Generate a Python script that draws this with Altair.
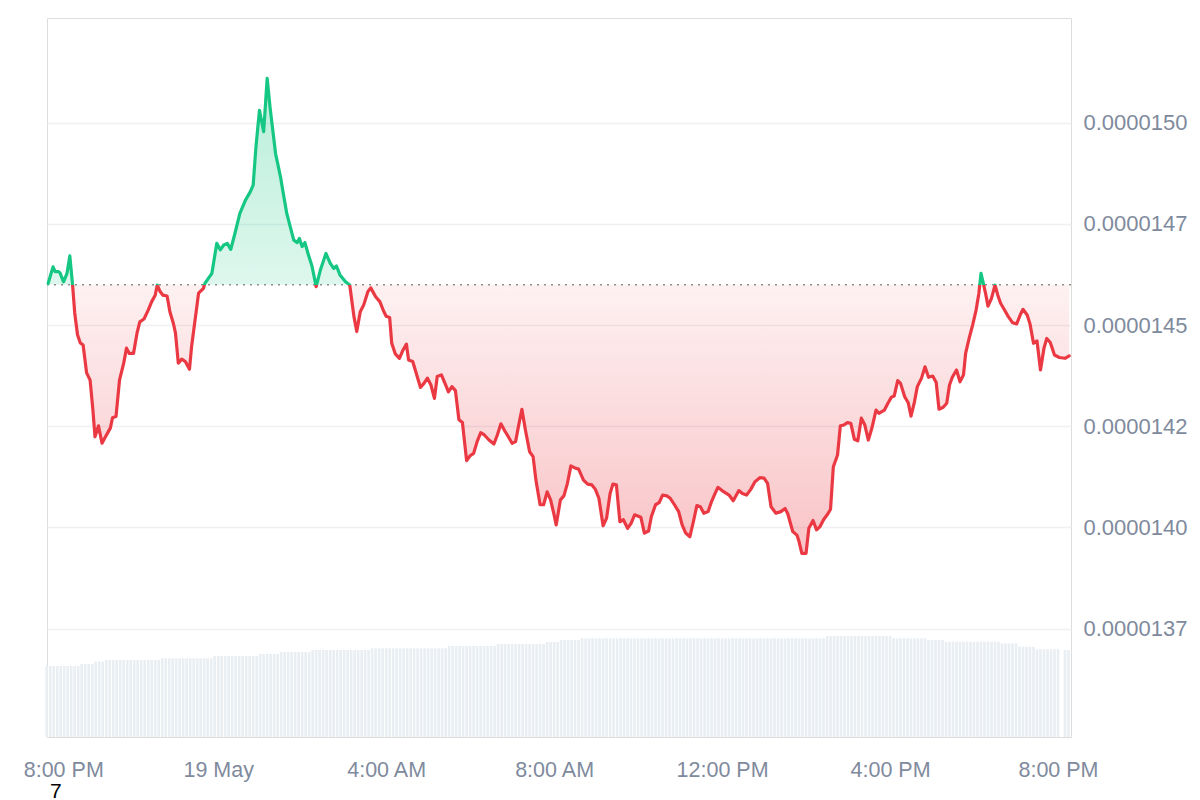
import altair as alt
import pandas as pd
import numpy as np

# ---------------- data ----------------
# minutes after 18 May 20:00
minutes = [
    -3, 4, 7, 12, 14, 19, 24, 28, 32, 35,
    39, 43, 47, 52, 57, 61, 64, 69, 74, 78,
    86, 89, 94, 99, 105, 109, 113, 119, 124, 128,
    134, 140, 145, 150, 153, 157, 161, 167, 171, 176,
    179, 183, 188, 193, 199, 202, 207, 212, 219, 221,
    231, 238, 243, 248, 253, 258, 264, 271, 279, 286,
    290, 294, 299, 305, 310, 314, 322, 329, 333, 338,
    343, 348, 353, 356, 360, 364, 369, 374, 380, 386,
    394, 400, 405, 409, 414, 422, 428, 434, 438, 443,
    448, 454, 458, 465, 471, 476, 480, 485, 488, 493,
    499, 504, 509, 512, 518, 523, 529, 534, 539, 544,
    549, 553, 559, 565, 569, 574, 579, 584, 589, 595,
    600, 605, 610, 615, 620, 627, 634, 639, 644, 650,
    655, 660, 665, 669, 674, 679, 685, 690, 694, 700,
    705, 710, 715, 720, 723, 729, 734, 739, 744, 751,
    755, 762, 768, 774, 779, 784, 790, 795, 800, 804,
    809, 814, 819, 825, 830, 835, 844, 849, 855, 859,
    865, 870, 875, 881, 886, 892, 898, 903, 908, 914,
    919, 924, 929, 934, 940, 945, 948, 954, 960, 970,
    976, 984, 989, 995, 1001, 1007, 1014, 1020, 1025, 1030,
    1037, 1044, 1050, 1054, 1061, 1067, 1070, 1074, 1080, 1084,
    1090, 1095, 1100, 1105, 1111, 1115, 1119, 1125, 1129, 1134,
    1139, 1144, 1149, 1154, 1159, 1164, 1169, 1174, 1180, 1184,
    1192, 1197, 1202, 1206, 1211, 1215, 1221, 1226, 1230, 1235,
    1239, 1245, 1250, 1255, 1261, 1266, 1270, 1276, 1281, 1285,
    1289, 1295, 1300, 1305, 1308, 1313, 1318, 1323, 1327, 1330,
    1334, 1337, 1340, 1345, 1350, 1354, 1358, 1363, 1369, 1375,
    1381, 1386, 1390, 1396, 1400, 1405, 1410, 1415, 1420, 1424,
    1429, 1435, 1442, 1450, 1456,
]

# price in units of 1e-7 USD
price_e7 = [
    146.03, 146.44, 146.32, 146.32, 146.29, 146.07, 146.28, 146.71, 145.98, 145.30,
    144.76, 144.56, 144.51, 143.82, 143.64, 142.90, 142.24, 142.51, 142.08, 142.21,
    142.46, 142.71, 142.74, 143.64, 144.06, 144.43, 144.30, 144.30, 144.80, 145.08,
    145.15, 145.37, 145.58, 145.74, 145.99, 145.83, 145.74, 145.72, 145.33, 145.04,
    144.80, 144.06, 144.16, 144.10, 143.91, 144.47, 145.13, 145.79, 145.91, 146.03,
    146.28, 147.02, 146.86, 146.98, 147.02, 146.87, 147.27, 147.76, 148.09, 148.30,
    148.46, 149.41, 150.31, 149.78, 151.10, 150.40, 149.24, 148.67, 148.26, 147.76,
    147.43, 147.10, 147.04, 147.14, 146.94, 147.04, 146.73, 146.46, 145.95, 146.36,
    146.77, 146.53, 146.40, 146.46, 146.24, 146.07, 145.99, 145.21, 144.84, 145.33,
    145.50, 145.83, 145.92, 145.70, 145.58, 145.36, 145.22, 145.19, 144.55, 144.29,
    144.18, 144.38, 144.53, 144.14, 144.10, 143.81, 143.46, 143.56, 143.69, 143.52,
    143.19, 143.73, 143.77, 143.52, 143.35, 143.48, 143.38, 142.66, 142.59, 141.65,
    141.77, 141.83, 142.12, 142.34, 142.29, 142.16, 142.06, 142.29, 142.56, 142.37,
    142.23, 142.08, 142.12, 142.49, 142.92, 142.41, 141.87, 141.75, 141.17, 140.56,
    140.56, 140.88, 140.68, 140.31, 140.06, 140.68, 140.78, 141.09, 141.52, 141.46,
    141.44, 141.17, 141.07, 141.05, 140.94, 140.72, 140.04, 140.23, 140.84, 141.07,
    141.05, 140.14, 140.19, 139.98, 140.10, 140.31, 140.25, 139.86, 139.91, 140.27,
    140.56, 140.61, 140.80, 140.78, 140.72, 140.56, 140.39, 140.06, 139.86, 139.77,
    140.14, 140.54, 140.51, 140.35, 140.39, 140.64, 140.76, 140.99, 140.91, 140.80,
    140.66, 140.91, 140.84, 140.80, 140.94, 141.13, 141.23, 141.22, 141.09, 140.51,
    140.35, 140.39, 140.47, 140.33, 139.90, 139.81, 139.65, 139.36, 139.36, 139.98,
    140.17, 139.94, 140.02, 140.19, 140.33, 140.45, 141.50, 141.79, 142.51, 142.53,
    142.59, 142.57, 142.18, 142.14, 142.70, 142.53, 142.16, 142.45, 142.90, 142.82,
    142.90, 143.07, 143.22, 143.25, 143.63, 143.56, 143.23, 143.08, 142.75, 143.11,
    143.48, 143.69, 143.97, 143.71, 143.74, 143.58, 142.92, 142.97, 143.07, 143.52,
    143.71, 143.89, 143.60, 143.77, 144.30, 144.67, 145.00, 145.37, 145.79, 146.28,
    145.98, 145.74, 145.47, 145.66, 145.99, 145.74, 145.54, 145.39, 145.21, 145.06,
    145.03, 145.25, 145.39, 145.25, 145.03, 144.55, 144.61, 143.89, 144.43, 144.67,
    144.57, 144.26, 144.20, 144.18, 144.24,
]

baseline_e7 = 146.0   # reference (open) price, dotted line

# 24h volume bars (relative units), read as steps: step start minute -> value
vol_step_start = [-5, 45, 63, 78, 159, 231, 297, 327, 375, 459, 569, 638, 708,
                  728, 758, 1110, 1203, 1251, 1278, 1356, 1383, 1410, 1445]
vol_step_value = [9.87, 10.15, 10.47, 10.71, 10.95, 11.27, 11.54, 11.82, 12.10,
                  12.34, 12.66, 12.93, 13.21, 13.49, 13.73, 14.05, 13.73, 13.49,
                  13.25, 13.03, 12.56, 12.20, 12.10]
vol_minutes = list(range(-5, 1445, 5)) + [1450, 1455]

y_tick_values = [137.5, 140.0, 142.5, 145.0, 147.5, 150.0]
x_tick_hours = [(18, 20), (19, 0), (19, 4), (19, 8), (19, 12), (19, 16), (19, 20)]

# ---------------- tables ----------------
t0 = pd.Timestamp("2024-05-18 20:00")
n = min(len(minutes), len(price_e7))
df = pd.DataFrame({
    "time": t0 + pd.to_timedelta(minutes[:n], unit="min"),
    "price": price_e7[:n],
})
df["above"] = np.maximum(df["price"], baseline_e7)
df["below"] = np.minimum(df["price"], baseline_e7)

vol_vals = []
for m in vol_minutes:
    v = vol_step_value[0]
    for s, val in zip(vol_step_start, vol_step_value):
        if m >= s:
            v = val
    vol_vals.append(v)
vdf = pd.DataFrame({"time": t0 + pd.to_timedelta(vol_minutes, unit="min"), "vol": vol_vals})

GREEN = "#16c784"
RED = "#ea3943"
GRAY = "#808a9d"
FONT = "Liberation Sans"

pmax, pmin = max(price_e7), min(price_e7)
split = (pmax - baseline_e7) / (pmax - pmin)

x_enc = alt.X(
    "time:T",
    title=None,
    scale=alt.Scale(domain=[
        alt.DateTime(year=2024, month=5, date=18, hours=19, minutes=55, seconds=24),
        alt.DateTime(year=2024, month=5, date=19, hours=20, minutes=18, seconds=36),
    ], padding=0, nice=False),
    axis=alt.Axis(
        values=[alt.DateTime(year=2024, month=5, date=d, hours=h) for d, h in x_tick_hours],
        labelExpr="hours(datum.value) == 0 ? timeFormat(datum.value, '%-d %b') : timeFormat(datum.value, '%-I:%M %p')",
        grid=False, ticks=False, tickSize=0, domain=False,
        labelPadding=22, labelFlush=10, labelFlushOffset=27,
        labelFont=FONT, labelFontSize=21.5, labelColor=GRAY,
    ),
)

y_scale = alt.Scale(domain=[134.82, 152.59], nice=False, zero=False)
y_axis = alt.Axis(
    orient="right", values=y_tick_values,
    labelExpr="format(floor(datum.value + 0.000001) / 10000000, '.7f')",
    grid=True, gridColor="#eef0f3", gridWidth=1.5,
    ticks=False, tickSize=0, domain=False, labelPadding=12,
    labelFont=FONT, labelFontSize=22, labelColor=GRAY,
)

volume = alt.Chart(vdf).mark_bar(width=2.6, color="#e9eef3").encode(
    x=x_enc,
    y=alt.Y("vol:Q", scale=alt.Scale(domain=[0, 100]), axis=None),
)

green_area = alt.Chart(df).mark_area(
    fill=alt.Gradient(
        gradient="linear", x1=0, x2=0, y1=0, y2=1,
        stops=[alt.GradientStop(color="rgba(22,199,132,0.30)", offset=0),
               alt.GradientStop(color="rgba(22,199,132,0.14)", offset=1)],
    )
).encode(
    x=x_enc,
    y=alt.Y("above:Q", scale=y_scale, axis=y_axis, title=None),
    y2=alt.datum(baseline_e7),
)

red_area = alt.Chart(df).mark_area(
    fill=alt.Gradient(
        gradient="linear", x1=0, x2=0, y1=0, y2=1,
        stops=[alt.GradientStop(color="rgba(234,57,67,0.07)", offset=0),
               alt.GradientStop(color="rgba(234,57,67,0.30)", offset=1)],
    )
).encode(
    x=x_enc,
    y=alt.Y("below:Q", scale=y_scale, axis=y_axis, title=None),
    y2=alt.datum(baseline_e7),
)

base_rule = alt.Chart(pd.DataFrame({"b": [baseline_e7]})).mark_rule(
    color="#8f8f8f", strokeDash=[2, 5], strokeWidth=1.5
).encode(y=alt.Y("b:Q", scale=y_scale, axis=y_axis, title=None))

line = alt.Chart(df).mark_line(
    strokeWidth=3.2, strokeJoin="round", strokeCap="round",
    stroke=alt.Gradient(
        gradient="linear", x1=0, x2=0, y1=0, y2=1,
        stops=[alt.GradientStop(color=GREEN, offset=0),
               alt.GradientStop(color=GREEN, offset=split),
               alt.GradientStop(color=RED, offset=split),
               alt.GradientStop(color=RED, offset=1)],
    ),
).encode(
    x=x_enc,
    y=alt.Y("price:Q", scale=y_scale, axis=y_axis, title=None),
)

price_layers = alt.layer(green_area, red_area, base_rule, line)

chart = alt.layer(volume, price_layers).resolve_scale(y="independent").properties(
    width=1024, height=719,
    autosize=alt.AutoSizeParams(type="none"),
    padding={"left": 39, "top": 10, "right": 121, "bottom": 64},
    title=alt.TitleParams(
        text="7", orient="bottom", anchor="start", frame="group", dx=3, offset=0,
        fontSize=21, font=FONT, fontWeight="normal", color="black",
    ),
).configure_view(stroke="#eceef1", strokeWidth=1.5).configure(background="white")

chart.save("out.html", embed_options={"renderer": "svg", "actions": False})
